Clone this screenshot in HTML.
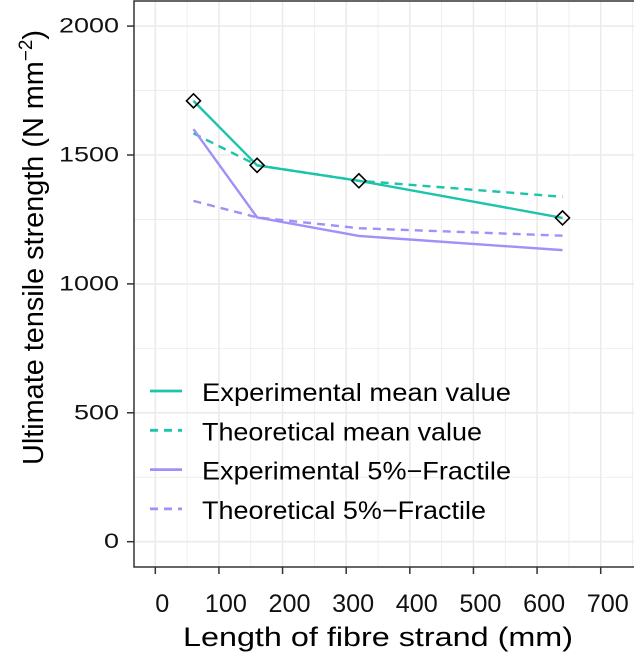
<!DOCTYPE html>
<html><head><meta charset="utf-8"><style>
body{margin:0;background:#fff}
svg{display:block;font-family:"Liberation Sans",sans-serif}
</style></head><body>
<svg width="634" height="660">
<g id="grid"></g>
<rect x="134" y="1" width="510" height="566" fill="none" stroke="#333" stroke-width="1.5"/>
<g id="axes"></g>
<g id="series"></g>
<g id="legend"></g>
<text x="43" y="247.5" transform="rotate(-90 43 247.5)" text-anchor="middle" font-size="29" textLength="435" lengthAdjust="spacingAndGlyphs">Ultimate tensile strength (N mm<tspan dy="-11" font-size="19">−2</tspan><tspan dy="11">)</tspan></text>
<text x="378" y="646" text-anchor="middle" font-size="27" textLength="390" lengthAdjust="spacingAndGlyphs">Length of fibre strand (mm)</text>
</svg>
<script>
const xs=[60,160,320,640];
const expMean=[1710,1460,1400,1256];
const theoMean=[1584,1460,1400,1338];
const exp5=[1600,1258,1186,1131];
const theo5=[1322,1258,1216,1187];
const xTicks=[0,100,200,300,400,500,600,700];
const yTicks=[0,500,1000,1500,2000];
const seriesNames=["Experimental mean value","Theoretical mean value","Experimental 5%\u2212Fractile","Theoretical 5%\u2212Fractile"];
const legendWidths=[309,280,309,284];
const NS="http://www.w3.org/2000/svg";
const X=v=>155.3+v*0.6363, Y=v=>541.7-v*0.2578;
function mk(t,a,p){const e=document.createElementNS(NS,t);for(const k in a)e.setAttribute(k,a[k]);p.appendChild(e);return e;}
const g=document.getElementById('grid'),ax=document.getElementById('axes'),s=document.getElementById('series'),lg=document.getElementById('legend');
for(let v=-50;v<=750;v+=50){const px=X(v);if(px<135||px>633)continue;
 const l=mk('line',{x1:px,x2:px,y1:1,y2:567,stroke:'#ebebeb','stroke-width':v%100==0?1.6:0.8},g);
 }
for(let v=-250;v<=2250;v+=250){const py=Y(v);if(py<2||py>566)continue;
 const l=mk('line',{x1:134,x2:634,y1:py,y2:py,stroke:'#ebebeb','stroke-width':v%500==0?1.6:0.8},g);
 }
xTicks.forEach(v=>{const px=X(v);
 const t=mk('line',{x1:px,x2:px,y1:567,y2:574,stroke:'#333','stroke-width':1.5},ax);
 
 const n=String(v).length;
 const tx=mk('text',{x:px+7,y:612,'text-anchor':'middle','font-size':25,fill:'#111',textLength:n*14,lengthAdjust:'spacingAndGlyphs'},ax);tx.textContent=v;
 });
yTicks.forEach(v=>{const py=Y(v);
 const t=mk('line',{x1:127,x2:134,y1:py,y2:py,stroke:'#333','stroke-width':1.5},ax);
 
 const n=String(v).length;
 const tx=mk('text',{x:119,y:py+6.5,'text-anchor':'end','font-size':21,fill:'#111',textLength:n*15,lengthAdjust:'spacingAndGlyphs'},ax);tx.textContent=v;
 });
const teal='#1cc4aa',purp='#a090f8';
const defs=[[expMean,teal,''],[theoMean,teal,'8 6'],[exp5,purp,''],[theo5,purp,'8 6']];
const names=['line-experimental-mean','line-theoretical-mean','line-experimental-5pct','line-theoretical-5pct'];
defs.forEach((d,i)=>{const p=mk('polyline',{points:xs.map((x,j)=>X(x)+','+Y(d[0][j])).join(' '),fill:'none',stroke:d[1],'stroke-width':2.4,'stroke-dasharray':d[2]},s);
 });
xs.forEach((x,j)=>{const cx=X(x),cy=Y(expMean[j]);
 const m=mk('polygon',{points:`${cx},${cy-7} ${cx+7},${cy} ${cx},${cy+7} ${cx-7},${cy}`,fill:'none',stroke:'#000','stroke-width':1.6},s);
 });
seriesNames.forEach((n,i)=>{const y=391+i*39.3;
 const l=mk('line',{x1:150,x2:182,y1:y,y2:y,stroke:defs[i][1],'stroke-width':2.8,'stroke-dasharray':defs[i][2]},lg);
 
 const t=mk('text',{x:202,y:y+10,'font-size':25,fill:'#000',textLength:legendWidths[i],lengthAdjust:'spacingAndGlyphs'},lg);t.textContent=n;
 });
</script>
</body></html>
